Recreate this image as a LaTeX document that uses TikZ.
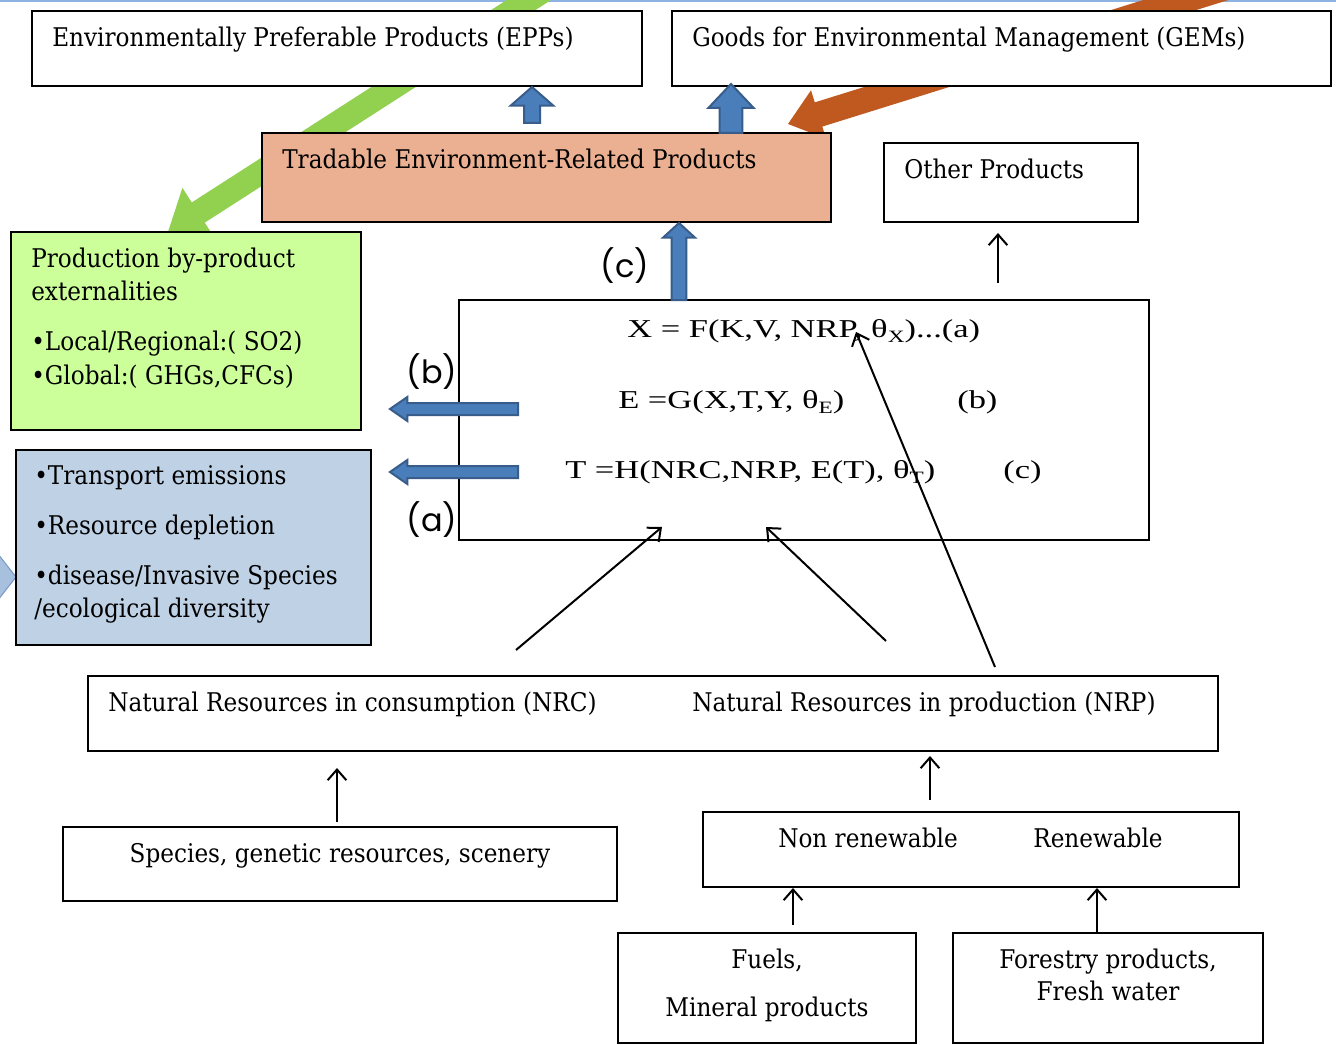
\documentclass[tikz,border=0pt]{standalone}
\usepackage{fontspec}
\setmainfont[FakeStretch=0.9]{DejaVu Serif}
\newfontfamily\eqfont[FakeStretch=1.34]{Liberation Serif}
\newfontfamily\labfont{Poppins}
\usetikzlibrary{arrows.meta,calc,fit}
\definecolor{bblue}{HTML}{4A7EBB}
\definecolor{bedge}{HTML}{385D8A}
\definecolor{garrow}{HTML}{92D050}
\definecolor{oarrow}{HTML}{C0591F}
\definecolor{prodfill}{HTML}{CCFF99}
\definecolor{extfill}{HTML}{BFD1E5}
\definecolor{tradfill}{HTML}{EBB091}
\definecolor{topline}{HTML}{8DB3E2}
\definecolor{chevfill}{HTML}{A6C0DD}
\definecolor{chevedge}{HTML}{7C9CC4}
\newcommand\subsx[1]{\raisebox{-0.45ex}{\fontsize{13pt}{13pt}\selectfont #1}}
% block arrow: #1 tail, #2 tip, #3 shaft half, #4 head half, #5 head length, #6 style
\newcommand\blockarrow[6]{%
  \coordinate (ba-H) at ($#2!#5!#1$);
  \filldraw[#6] ($#1!#3!90:#2$) -- ($(ba-H)!#3!-90:#1$) -- ($(ba-H)!#4!-90:#1$) -- #2
    -- ($(ba-H)!#4!90:#1$) -- ($(ba-H)!#3!90:#1$) -- ($#1!#3!-90:#2$) -- cycle;
}
\tikzset{
  box/.style={draw=black, line width=1pt, fill=white, inner sep=0pt},
  txt/.style={font=\fontsize{19.3pt}{22pt}\selectfont, inner sep=0pt},
  eqt/.style={font=\eqfont\fontsize{19.3pt}{22pt}\selectfont, inner sep=0pt},
  lab/.style={font=\labfont\fontsize{24pt}{27pt}\selectfont, inner sep=0pt},
  thin/.style={draw=black, line width=1.5pt, -{Straight Barb[length=8pt,width=14pt,line width=1.5pt]}},
  blue/.style={fill=bblue, draw=bedge, line width=1.5pt},
}
\begin{document}
\begin{tikzpicture}[x=0.75pt,y=-0.75pt]
\useasboundingbox (0,0) rectangle (1336,1045);
\fill[white] (0,0) rectangle (1336,1045);
\draw[topline, line width=1.5pt] (0,0.8) -- (1336,0.8);

% big background arrows
\begin{scope}
\clip (0,0) rectangle (1336,1045);
\coordinate (gA) at (560,-20);
\coordinate (gB) at (168,232);
\blockarrow{(gA)}{(gB)}{9pt}{22pt}{27pt}{fill=garrow, draw=none}
\coordinate (oA) at (1250,-20);
\coordinate (oB) at (788,124);
\blockarrow{(oA)}{(oB)}{9.5pt}{19pt}{24pt}{fill=oarrow, draw=none}
\end{scope}

% chevron at left edge
\filldraw[fill=chevfill, draw=chevedge, line width=0.8pt] (-2,554) -- (16,577) -- (-2,600) -- cycle;

% boxes
\node[box, fit={(32,11) (642,86)}] (epp) {};
\node[box, fit={(672,11) (1331,86)}] (gem) {};
\node[box, fill=tradfill, fit={(262,133) (831,222)}] (trad) {};
\node[box, fit={(884,143) (1138,222)}] (other) {};
\node[box, fill=prodfill, fit={(11,232) (361,430)}] (prod) {};
\node[box, fill=extfill, fit={(16,450) (371,645)}] (ext) {};
\node[box, fit={(459,300) (1149,540)}] (eq) {};
\node[box, fit={(88,676) (1218,751)}] (nr) {};
\node[box, fit={(63,827) (617,901)}] (spec) {};
\node[box, fit={(703,812) (1239,887)}] (ren) {};
\node[box, fit={(618,933) (916,1043)}] (fuel) {};
\node[box, fit={(953,933) (1263,1043)}] (forest) {};

% texts
\node[txt, anchor=mid west] (t1) at (52,43) {Environmentally Preferable Products (EPPs)};
\node[txt, anchor=mid west] (t2) at (692,43) {Goods for Environmental Management (GEMs)};
\node[txt, anchor=mid west] (t3) at (282,165) {Tradable Environment-Related Products};
\node[txt, anchor=mid west] (t4) at (904,175) {Other Products};
\node[txt, anchor=mid west] (p1) at (31,264) {Production by-product};
\node[txt, anchor=mid west] (p2) at (31,297) {externalities};
\node[txt, anchor=mid west] (p3) at (31,347) {•Local/Regional:( SO2)};
\node[txt, anchor=mid west] (p4) at (31,381) {•Global:( GHGs,CFCs)};
\node[txt, anchor=mid west] (e1) at (34,481) {•Transport emissions};
\node[txt, anchor=mid west] (e2) at (34,531) {•Resource depletion};
\node[txt, anchor=mid west] (e3) at (34,581) {•disease/Invasive Species};
\node[txt, anchor=mid west] (e4) at (34,614) {/ecological diversity};
\node[txt, anchor=mid west] (n1) at (108,708) {Natural Resources in consumption (NRC)};
\node[txt, anchor=mid west] (n2) at (692,708) {Natural Resources in production (NRP)};
\node[txt, anchor=mid] (s1) at (340,859) {Species, genetic resources, scenery};
\node[txt, anchor=mid] (r1) at (868,844) {Non renewable};
\node[txt, anchor=mid] (r2) at (1098,844) {Renewable};
\node[txt, anchor=mid] (f1) at (767,965) {Fuels,};
\node[txt, anchor=mid] (f2) at (767,1013) {Mineral products};
\node[txt, anchor=mid] (g1) at (1108,965) {Forestry products,};
\node[txt, anchor=mid] (g2) at (1108,997) {Fresh water};

% formulas
\node[eqt, anchor=mid west] (q1) at (627,334) {X = F(K,V, NRP, θ\subsx{X})...(a)};
\node[eqt, anchor=mid west] (q2) at (618,405) {E =G(X,T,Y, θ\subsx{E})};
\node[eqt, anchor=mid west] (q2b) at (957,405) {(b)};
\node[eqt, anchor=mid west] (q3) at (565,475) {T =H(NRC,NRP, E(T), θ\subsx{T})};
\node[eqt, anchor=mid west] (q3b) at (1003,475) {(c)};

% sans labels
\node[lab] (lc) at (625,266) {(c)};
\node[lab] (lb) at (432,372) {(b)};
\node[lab] (la) at (432,520) {(a)};

% blue block arrows
\coordinate (b1A) at (532,123);
\coordinate (b1B) at (532,87);
\blockarrow{(b1A)}{(b1B)}{6pt}{16pt}{14pt}{blue}
\coordinate (b2A) at (731,133);
\coordinate (b2B) at (731,84);
\blockarrow{(b2A)}{(b2B)}{8.5pt}{17pt}{18pt}{blue}
\coordinate (b3A) at (679,300);
\coordinate (b3B) at (679,223);
\blockarrow{(b3A)}{(b3B)}{5.5pt}{12pt}{11pt}{blue}
\coordinate (b4A) at (518,409);
\coordinate (b4B) at (390,409);
\blockarrow{(b4A)}{(b4B)}{4.5pt}{9pt}{13pt}{blue}
\coordinate (b5A) at (518,472);
\coordinate (b5B) at (390,472);
\blockarrow{(b5A)}{(b5B)}{4.5pt}{9pt}{13pt}{blue}

% thin arrows
\coordinate (a1s) at (998,283); \coordinate (a1e) at (998,233);
\draw[thin] (a1s) -- (a1e);
\coordinate (a2s) at (516,650); \coordinate (a2e) at (662,527);
\draw[thin] (a2s) -- (a2e);
\coordinate (a3s) at (886,641); \coordinate (a3e) at (766,527);
\draw[thin] (a3s) -- (a3e);
\coordinate (a4s) at (995,667); \coordinate (a4e) at (856,332);
\draw[thin] (a4s) -- (a4e);
\coordinate (a5s) at (337,822); \coordinate (a5e) at (337,768);
\draw[thin] (a5s) -- (a5e);
\coordinate (a6s) at (930,800); \coordinate (a6e) at (930,756);
\draw[thin] (a6s) -- (a6e);
\coordinate (a7s) at (793,925); \coordinate (a7e) at (793,888);
\draw[thin] (a7s) -- (a7e);
\coordinate (a8s) at (1097,933); \coordinate (a8e) at (1097,888);
\draw[thin] (a8s) -- (a8e);
\end{tikzpicture}
\end{document}
